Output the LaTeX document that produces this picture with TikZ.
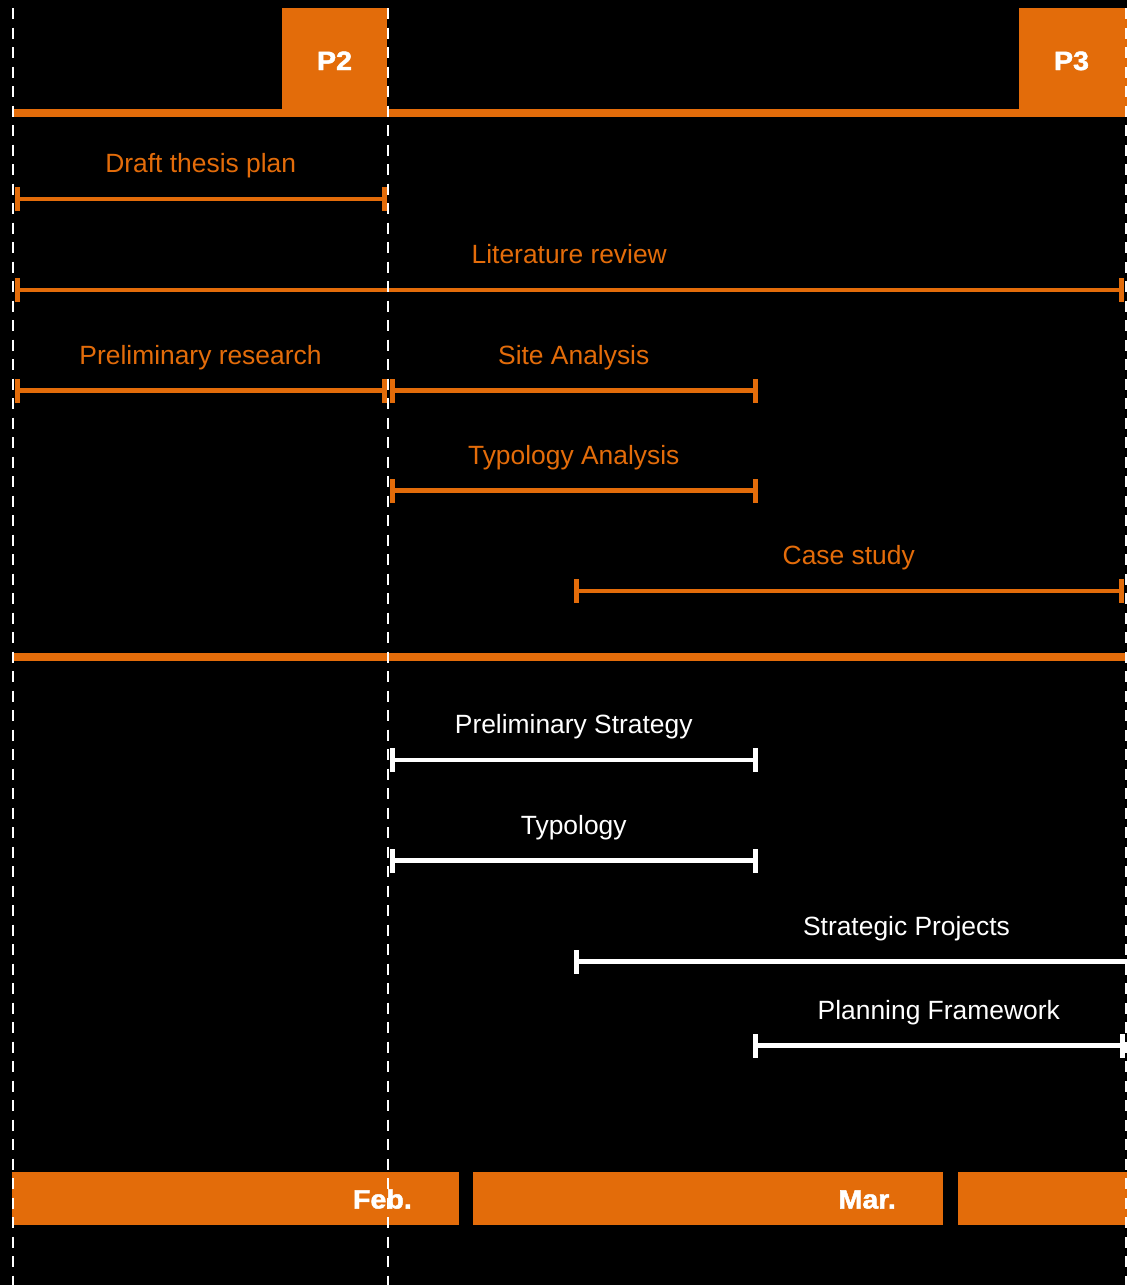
\documentclass[tikz,border=0pt]{standalone}
\usepackage{fontspec}
\setmainfont{Liberation Sans}
\newfontfamily\pfont{Liberation Sans}[FakeStretch=1.08, BoldFeatures={FakeBold=1.8}]
\usetikzlibrary{calc}
\definecolor{ora}{RGB}{227,108,10}
\tikzset{
  barline/.style={line width=4.8pt},
  lbl/.style={anchor=base, inner sep=0pt, font=\fontsize{26.4}{30}\selectfont},
  blbl/.style={inner sep=0pt, text=white, font=\pfont\fontsize{26.5}{30}\selectfont\bfseries},
  dashline/.style={draw=white, line width=2.5pt, dash pattern=on 11pt off 8.5pt},
}
\newcommand{\gtick}[2]{\fill[#2] ($(#1)+(-2.5,-12)$) rectangle ($(#1)+(2.5,12)$);}
\begin{document}
\begin{tikzpicture}[x=1pt,y=-1pt]
\useasboundingbox (0,0) rectangle (1127,1285);
\fill[black] (0,0) rectangle (1127,1285);

% top band
\fill[ora] (12,108.5) rectangle (1127,117);
\fill[ora] (282,8) rectangle (387,117);
\fill[ora] (1019,8) rectangle (1127,117);
\node[blbl, anchor=base] (p2) at (334.5,70) {P2};
\node[blbl, anchor=base] (p3) at (1071.5,70) {P3};

% orange tasks
\coordinate (dt-a) at (17,199); \coordinate (dt-b) at (384.5,199);
\draw[barline,ora] (dt-a) -- (dt-b);
\gtick{dt-a}{ora}\gtick{dt-b}{ora}
\node[lbl,text=ora] (dt) at ($(dt-a)!0.5!(dt-b)+(0,-26.5)$) {Draft thesis plan};

\coordinate (lr-a) at (17,290); \coordinate (lr-b) at (1121.5,290);
\draw[barline,ora] (lr-a) -- (lr-b);
\gtick{lr-a}{ora}\gtick{lr-b}{ora}
\node[lbl,text=ora] (lr) at ($(lr-a)!0.5!(lr-b)+(0,-26.5)$) {Literature review};

\coordinate (pr-a) at (17,390.5); \coordinate (pr-b) at (384,390.5);
\draw[barline,ora] (pr-a) -- (pr-b);
\gtick{pr-a}{ora}\gtick{pr-b}{ora}
\node[lbl,text=ora] (pr) at ($(pr-a)!0.5!(pr-b)+(0,-26.5)$) {Preliminary research};

\coordinate (sa-a) at (392,390.5); \coordinate (sa-b) at (755.5,390.5);
\draw[barline,ora] (sa-a) -- (sa-b);
\gtick{sa-a}{ora}\gtick{sa-b}{ora}
\node[lbl,text=ora] (sa) at ($(sa-a)!0.5!(sa-b)+(0,-26.5)$) {Site Analysis};

\coordinate (ta-a) at (392,490.5); \coordinate (ta-b) at (755.5,490.5);
\draw[barline,ora] (ta-a) -- (ta-b);
\gtick{ta-a}{ora}\gtick{ta-b}{ora}
\node[lbl,text=ora] (ta) at ($(ta-a)!0.5!(ta-b)+(0,-26.5)$) {Typology Analysis};

\coordinate (cs-a) at (576,591); \coordinate (cs-b) at (1121.5,591);
\draw[barline,ora] (cs-a) -- (cs-b);
\gtick{cs-a}{ora}\gtick{cs-b}{ora}
\node[lbl,text=ora] (cs) at ($(cs-a)!0.5!(cs-b)+(0,-26.5)$) {Case study};

% separator
\fill[ora] (12,652.5) rectangle (1127,660.5);

% white tasks
\coordinate (ps-a) at (392,760); \coordinate (ps-b) at (755.5,760);
\draw[barline,white] (ps-a) -- (ps-b);
\gtick{ps-a}{white}\gtick{ps-b}{white}
\node[lbl,text=white] (ps) at ($(ps-a)!0.5!(ps-b)+(0,-26.5)$) {Preliminary Strategy};

\coordinate (ty-a) at (392,860.5); \coordinate (ty-b) at (755.5,860.5);
\draw[barline,white] (ty-a) -- (ty-b);
\gtick{ty-a}{white}\gtick{ty-b}{white}
\node[lbl,text=white] (ty) at ($(ty-a)!0.5!(ty-b)+(0,-26.5)$) {Typology};

\coordinate (sp-a) at (576,961.5); \coordinate (sp-b) at (1127,961.5);
\draw[barline,white] (sp-a) -- (sp-b);
\gtick{sp-a}{white}
\node[lbl,text=white] (sp) at (906.5,935) {Strategic Projects};

\coordinate (pf-a) at (755.5,1045.5); \coordinate (pf-b) at (1122,1045.5);
\draw[barline,white] (pf-a) -- (pf-b);
\gtick{pf-a}{white}\gtick{pf-b}{white}
\node[lbl,text=white] (pf) at ($(pf-a)!0.5!(pf-b)+(0,-26.5)$) {Planning Framework};

% month bars
\fill[ora] (12,1172) rectangle (459,1224.5);
\fill[ora] (473,1172) rectangle (943,1224.5);
\fill[ora] (958,1172) rectangle (1127,1224.5);
\node[blbl, anchor=base east] (feb) at (412,1208.5) {Feb.};
\node[blbl, anchor=base east] (mar) at (896,1208.5) {Mar.};

% dashed guides
\coordinate (g1t) at (13,8); \coordinate (g1b) at (13,1285);
\coordinate (g2t) at (388,8); \coordinate (g2b) at (388,1285);
\coordinate (g3t) at (1126.5,8); \coordinate (g3b) at (1126.5,1285);
\draw[dashline] (g1t) -- (g1b);
\draw[dashline] (g2t) -- (g2b);
\draw[dashline] (g3t) -- (g3b);
\end{tikzpicture}
\end{document}
